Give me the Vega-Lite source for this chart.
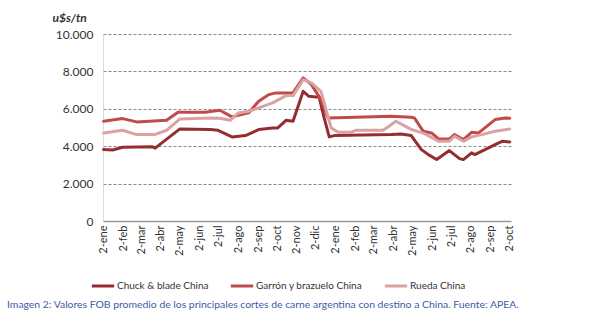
{
  "$schema": "https://vega.github.io/schema/vega-lite/v6.json",
  "width": 408,
  "height": 187,
  "autosize": {"type": "none"},
  "padding": {"left": 103, "top": 34, "right": 94, "bottom": 111},
  "background": "white",
  "data": {"values": [
    {"fecha": "2019/01/02", "serie": "Chuck & blade China", "valor": 3818},
    {"fecha": "2019/01/16", "serie": "Chuck & blade China", "valor": 3800},
    {"fecha": "2019/02/01", "serie": "Chuck & blade China", "valor": 3942},
    {"fecha": "2019/03/20", "serie": "Chuck & blade China", "valor": 3965},
    {"fecha": "2019/03/24", "serie": "Chuck & blade China", "valor": 3900},
    {"fecha": "2019/05/02", "serie": "Chuck & blade China", "valor": 4925},
    {"fecha": "2019/06/19", "serie": "Chuck & blade China", "valor": 4888},
    {"fecha": "2019/07/01", "serie": "Chuck & blade China", "valor": 4851},
    {"fecha": "2019/07/23", "serie": "Chuck & blade China", "valor": 4497},
    {"fecha": "2019/08/13", "serie": "Chuck & blade China", "valor": 4567},
    {"fecha": "2019/09/03", "serie": "Chuck & blade China", "valor": 4888},
    {"fecha": "2019/09/25", "serie": "Chuck & blade China", "valor": 4979},
    {"fecha": "2019/10/03", "serie": "Chuck & blade China", "valor": 4979},
    {"fecha": "2019/10/16", "serie": "Chuck & blade China", "valor": 5385},
    {"fecha": "2019/10/27", "serie": "Chuck & blade China", "valor": 5332},
    {"fecha": "2019/11/12", "serie": "Chuck & blade China", "valor": 6937},
    {"fecha": "2019/11/21", "serie": "Chuck & blade China", "valor": 6670},
    {"fecha": "2019/12/02", "serie": "Chuck & blade China", "valor": 6636},
    {"fecha": "2019/12/07", "serie": "Chuck & blade China", "valor": 6636},
    {"fecha": "2019/12/15", "serie": "Chuck & blade China", "valor": 5513},
    {"fecha": "2019/12/23", "serie": "Chuck & blade China", "valor": 4497},
    {"fecha": "2019/12/31", "serie": "Chuck & blade China", "valor": 4567},
    {"fecha": "2020/03/30", "serie": "Chuck & blade China", "valor": 4620},
    {"fecha": "2020/04/14", "serie": "Chuck & blade China", "valor": 4650},
    {"fecha": "2020/04/30", "serie": "Chuck & blade China", "valor": 4567},
    {"fecha": "2020/05/16", "serie": "Chuck & blade China", "valor": 3818},
    {"fecha": "2020/05/27", "serie": "Chuck & blade China", "valor": 3551},
    {"fecha": "2020/06/09", "serie": "Chuck & blade China", "valor": 3284},
    {"fecha": "2020/06/29", "serie": "Chuck & blade China", "valor": 3765},
    {"fecha": "2020/07/15", "serie": "Chuck & blade China", "valor": 3337},
    {"fecha": "2020/07/21", "serie": "Chuck & blade China", "valor": 3284},
    {"fecha": "2020/08/03", "serie": "Chuck & blade China", "valor": 3642},
    {"fecha": "2020/08/08", "serie": "Chuck & blade China", "valor": 3551},
    {"fecha": "2020/09/09", "serie": "Chuck & blade China", "valor": 4086},
    {"fecha": "2020/09/20", "serie": "Chuck & blade China", "valor": 4262},
    {"fecha": "2020/10/02", "serie": "Chuck & blade China", "valor": 4230},

    {"fecha": "2019/01/02", "serie": "Garrón y brazuelo China", "valor": 5330},
    {"fecha": "2019/02/01", "serie": "Garrón y brazuelo China", "valor": 5476},
    {"fecha": "2019/02/23", "serie": "Garrón y brazuelo China", "valor": 5300},
    {"fecha": "2019/04/11", "serie": "Garrón y brazuelo China", "valor": 5385},
    {"fecha": "2019/04/29", "serie": "Garrón y brazuelo China", "valor": 5814},
    {"fecha": "2019/06/10", "serie": "Garrón y brazuelo China", "valor": 5814},
    {"fecha": "2019/07/04", "serie": "Garrón y brazuelo China", "valor": 5920},
    {"fecha": "2019/07/23", "serie": "Garrón y brazuelo China", "valor": 5567},
    {"fecha": "2019/08/18", "serie": "Garrón y brazuelo China", "valor": 5780},
    {"fecha": "2019/09/03", "serie": "Garrón y brazuelo China", "valor": 6403},
    {"fecha": "2019/09/19", "serie": "Garrón y brazuelo China", "valor": 6760},
    {"fecha": "2019/09/30", "serie": "Garrón y brazuelo China", "valor": 6850},
    {"fecha": "2019/10/27", "serie": "Garrón y brazuelo China", "valor": 6850},
    {"fecha": "2019/11/12", "serie": "Garrón y brazuelo China", "valor": 7653},
    {"fecha": "2019/11/25", "serie": "Garrón y brazuelo China", "valor": 7295},
    {"fecha": "2019/12/10", "serie": "Garrón y brazuelo China", "valor": 6493},
    {"fecha": "2019/12/21", "serie": "Garrón y brazuelo China", "valor": 5513},
    {"fecha": "2020/03/30", "serie": "Garrón y brazuelo China", "valor": 5600},
    {"fecha": "2020/04/30", "serie": "Garrón y brazuelo China", "valor": 5548},
    {"fecha": "2020/05/05", "serie": "Garrón y brazuelo China", "valor": 5513},
    {"fecha": "2020/05/19", "serie": "Garrón y brazuelo China", "valor": 4797},
    {"fecha": "2020/06/01", "serie": "Garrón y brazuelo China", "valor": 4711},
    {"fecha": "2020/06/12", "serie": "Garrón y brazuelo China", "valor": 4390},
    {"fecha": "2020/06/29", "serie": "Garrón y brazuelo China", "valor": 4390},
    {"fecha": "2020/07/07", "serie": "Garrón y brazuelo China", "valor": 4620},
    {"fecha": "2020/07/21", "serie": "Garrón y brazuelo China", "valor": 4353},
    {"fecha": "2020/08/03", "serie": "Garrón y brazuelo China", "valor": 4745},
    {"fecha": "2020/08/14", "serie": "Garrón y brazuelo China", "valor": 4711},
    {"fecha": "2020/09/09", "serie": "Garrón y brazuelo China", "valor": 5423},
    {"fecha": "2020/09/25", "serie": "Garrón y brazuelo China", "valor": 5513},
    {"fecha": "2020/10/02", "serie": "Garrón y brazuelo China", "valor": 5495},

    {"fecha": "2019/01/02", "serie": "Rueda China", "valor": 4711},
    {"fecha": "2019/02/01", "serie": "Rueda China", "valor": 4851},
    {"fecha": "2019/02/23", "serie": "Rueda China", "valor": 4621},
    {"fecha": "2019/03/23", "serie": "Rueda China", "valor": 4621},
    {"fecha": "2019/04/11", "serie": "Rueda China", "valor": 4851},
    {"fecha": "2019/05/02", "serie": "Rueda China", "valor": 5460},
    {"fecha": "2019/06/19", "serie": "Rueda China", "valor": 5513},
    {"fecha": "2019/07/04", "serie": "Rueda China", "valor": 5490},
    {"fecha": "2019/07/20", "serie": "Rueda China", "valor": 5385},
    {"fecha": "2019/08/02", "serie": "Rueda China", "valor": 5780},
    {"fecha": "2019/08/18", "serie": "Rueda China", "valor": 5867},
    {"fecha": "2019/09/03", "serie": "Rueda China", "valor": 6048},
    {"fecha": "2019/09/25", "serie": "Rueda China", "valor": 6316},
    {"fecha": "2019/10/16", "serie": "Rueda China", "valor": 6706},
    {"fecha": "2019/10/27", "serie": "Rueda China", "valor": 6706},
    {"fecha": "2019/11/12", "serie": "Rueda China", "valor": 7562},
    {"fecha": "2019/11/25", "serie": "Rueda China", "valor": 7384},
    {"fecha": "2019/12/10", "serie": "Rueda China", "valor": 6937},
    {"fecha": "2019/12/26", "serie": "Rueda China", "valor": 4979},
    {"fecha": "2020/01/06", "serie": "Rueda China", "valor": 4745},
    {"fecha": "2020/01/26", "serie": "Rueda China", "valor": 4745},
    {"fecha": "2020/02/03", "serie": "Rueda China", "valor": 4851},
    {"fecha": "2020/03/17", "serie": "Rueda China", "valor": 4851},
    {"fecha": "2020/04/06", "serie": "Rueda China", "valor": 5332},
    {"fecha": "2020/04/30", "serie": "Rueda China", "valor": 4900},
    {"fecha": "2020/05/21", "serie": "Rueda China", "valor": 4674},
    {"fecha": "2020/06/12", "serie": "Rueda China", "valor": 4262},
    {"fecha": "2020/06/29", "serie": "Rueda China", "valor": 4262},
    {"fecha": "2020/07/07", "serie": "Rueda China", "valor": 4530},
    {"fecha": "2020/07/21", "serie": "Rueda China", "valor": 4262},
    {"fecha": "2020/08/03", "serie": "Rueda China", "valor": 4497},
    {"fecha": "2020/08/19", "serie": "Rueda China", "valor": 4620},
    {"fecha": "2020/09/09", "serie": "Rueda China", "valor": 4797},
    {"fecha": "2020/10/02", "serie": "Rueda China", "valor": 4925}
  ]},
  "mark": {"type": "line", "strokeWidth": 3, "strokeJoin": "round", "strokeCap": "round"},
  "encoding": {
    "x": {
      "field": "fecha",
      "type": "temporal",
      "scale": {"domain": [{"year": 2019, "month": 1, "date": 1}, {"year": 2020, "month": 10, "date": 4}]},
      "axis": {
        "title": null,
        "values": [
          {"year": 2019, "month": 1, "date": 2}, {"year": 2019, "month": 2, "date": 2}, {"year": 2019, "month": 3, "date": 2},
          {"year": 2019, "month": 4, "date": 2}, {"year": 2019, "month": 5, "date": 2}, {"year": 2019, "month": 6, "date": 2},
          {"year": 2019, "month": 7, "date": 2}, {"year": 2019, "month": 8, "date": 2}, {"year": 2019, "month": 9, "date": 2},
          {"year": 2019, "month": 10, "date": 2}, {"year": 2019, "month": 11, "date": 2}, {"year": 2019, "month": 12, "date": 2},
          {"year": 2020, "month": 1, "date": 2}, {"year": 2020, "month": 2, "date": 2}, {"year": 2020, "month": 3, "date": 2},
          {"year": 2020, "month": 4, "date": 2}, {"year": 2020, "month": 5, "date": 2}, {"year": 2020, "month": 6, "date": 2},
          {"year": 2020, "month": 7, "date": 2}, {"year": 2020, "month": 8, "date": 2}, {"year": 2020, "month": 9, "date": 2},
          {"year": 2020, "month": 10, "date": 2}
        ],
        "labelExpr": "'2-' + ['ene','feb','mar','abr','may','jun','jul','ago','sep','oct','nov','dic'][month(datum.value)]",
        "labelAngle": -90,
        "labelAlign": "right",
        "labelBaseline": "middle",
        "labelPadding": 4,
        "labelFont": "Lato",
        "labelFontSize": 11,
        "labelColor": "#333333",
        "labelOverlap": false,
        "ticks": false,
        "grid": false,
        "domainColor": "#999999",
        "domainWidth": 1.5
      }
    },
    "y": {
      "field": "valor",
      "type": "quantitative",
      "scale": {"domain": [0, 10000]},
      "axis": {
        "values": [0, 2000, 4000, 6000, 8000, 10000],
        "labelExpr": "replace(format(datum.value, ','), ',', '.')",
        "labelFont": "Lato",
        "labelFontSize": 12,
        "labelColor": "#333333",
        "labelPadding": 10,
        "ticks": false,
        "grid": true,
        "gridColor": "#8a8a8a",
        "gridDash": [3, 2],
        "gridOpacity": {"condition": {"test": "datum.value === 0", "value": 0}, "value": 1},
        "domainColor": "#bbbbbb",
        "domainDash": [1, 1],
        "title": "u$s/tn",
        "titleAngle": 0,
        "titleX": -51,
        "titleY": -17,
        "titleAlign": "left",
        "titleBaseline": "middle",
        "titleFont": "Lato",
        "titleFontSize": 12,
        "titleFontStyle": "italic",
        "titleFontWeight": "bold",
        "titleColor": "#333333"
      }
    },
    "color": {
      "field": "serie",
      "type": "nominal",
      "scale": {
        "domain": ["Chuck & blade China", "Garrón y brazuelo China", "Rueda China"],
        "range": ["#952d30", "#c24a4a", "#dba2a1"]
      },
      "legend": {
        "orient": "none",
        "legendX": -13,
        "legendY": 239,
        "direction": "horizontal",
        "title": null,
        "symbolType": "stroke",
        "symbolSize": 500,
        "symbolStrokeWidth": 3,
        "labelFont": "Lato",
        "labelFontSize": 10,
        "labelColor": "#333333",
        "labelOffset": 1,
        "columnPadding": 15
      }
    }
  },
  "title": {
    "text": "Imagen 2: Valores FOB promedio de los principales cortes de carne argentina con destino a China. Fuente: APEA.",
    "orient": "bottom",
    "anchor": "start",
    "frame": "group",
    "dx": -96,
    "offset": 8,
    "font": "Lato",
    "fontSize": 10.4,
    "fontWeight": "normal",
    "color": "#3b5ba5"
  },
  "config": {"view": {"stroke": null}}
}
